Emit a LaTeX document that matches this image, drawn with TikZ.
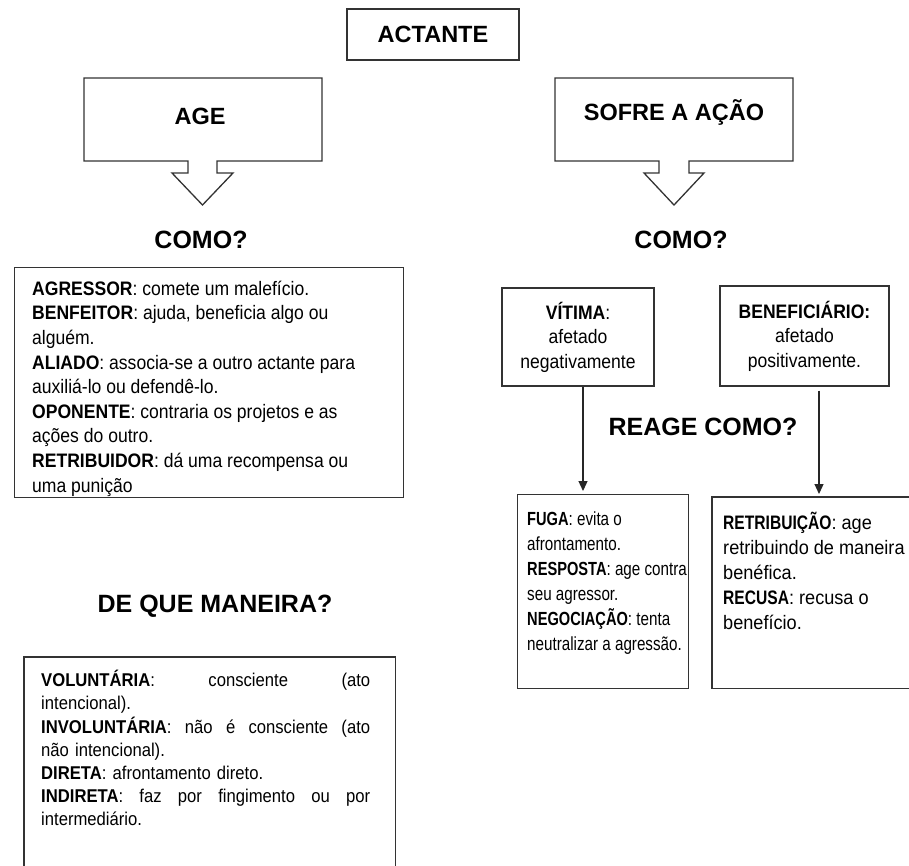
\documentclass[tikz,border=0pt]{standalone}
\usepackage{fontspec}
\setmainfont{Liberation Sans}
\newfontfamily\narrowfont[FakeStretch=0.9]{Liberation Sans}
\newfontfamily\fugafont[FakeStretch=0.8, BoldFeatures={FakeStretch=0.77}]{Liberation Sans}
\newfontfamily\retribfont[FakeStretch=0.93, BoldFeatures={FakeStretch=0.8}]{Liberation Sans}
\usetikzlibrary{arrows.meta}
\newcommand\tstrut{\rule{0pt}{15pt}}
\newcommand\jline[1]{\hbox to \linewidth{\spaceskip=.25em plus 1fil\relax #1}}
\begin{document}
\begin{tikzpicture}[x=1pt,y=-1pt,
  frame/.style={draw=black!80, line width=1.3pt, line join=miter},
  headtxt/.style={font=\fontsize{25}{30}\selectfont\bfseries, inner sep=0pt},
  calltxt/.style={font=\fontsize{23.5}{28}\selectfont\bfseries, inner sep=0pt},
  body/.style={font=\narrowfont\fontsize{19.5}{24.6}\selectfont, inner sep=0pt},
  arr/.style={-{Triangle[length=10pt,width=9pt]}, line width=1.2pt, draw=black!85}]
\useasboundingbox (0,0) rectangle (909,865);
\fill[white] (0,0) rectangle (909,865);

% ACTANTE
\node[frame, minimum width=172pt, minimum height=51pt, inner sep=0pt] (actante) at (433,34.5) {};
\node[calltxt, anchor=base] (actantetxt) at (433,42) {ACTANTE};

% callouts
\draw[frame] (84,78) -- (322,78) -- (322,161) -- (217,161) -- (217,173) -- (233,173)
  -- (202.5,205) -- (172,173) -- (188,173) -- (188,161) -- (84,161) -- cycle;
\node[calltxt, anchor=base] (age) at (200,124) {AGE};
\draw[frame] (555,78) -- (793,78) -- (793,161) -- (689,161) -- (689,173) -- (704,173)
  -- (674,205) -- (644,173) -- (659,173) -- (659,161) -- (555,161) -- cycle;
\node[calltxt, anchor=base] (sofre) at (674,120) {SOFRE A AÇÃO};

% headings
\node[headtxt, anchor=base] (como1) at (201,248) {COMO?};
\node[headtxt, anchor=base] (como2) at (681,248) {COMO?};
\node[headtxt, anchor=base] (reage) at (703,435) {REAGE COMO?};
\node[headtxt, anchor=base] (dqm) at (215,612) {DE QUE MANEIRA?};

% left box
\node[frame, minimum width=389pt, minimum height=230pt, anchor=north west, inner sep=0pt] (lbox) at (14,267) {};
\node[body, align=left, anchor=north west] (ltext) at (32,280) {\tstrut\textbf{AGRESSOR}: comete um malefício.\\
\textbf{BENFEITOR}: ajuda, beneficia algo ou\\
alguém.\\
\textbf{ALIADO}: associa-se a outro actante para\\
auxiliá-lo ou defendê-lo.\\
\textbf{OPONENTE}: contraria os projetos e as\\
ações do outro.\\
\textbf{RETRIBUIDOR}: dá uma recompensa ou\\
uma punição};

% victim / beneficiary
\node[frame, body, align=center, minimum width=152pt, minimum height=98pt] (vitima) at (578,337)
  {\textbf{VÍTIMA}:\\afetado\\negativamente};
\node[frame, body, align=center, minimum width=169pt, minimum height=100pt] (benef) at (804.5,336)
  {\textbf{BENEFICIÁRIO:}\\afetado\\positivamente.};

% reaction boxes
\node[frame, minimum width=171pt, minimum height=194pt, anchor=north west, inner sep=0pt] (fuga) at (517,494) {};
\node[body, align=left, anchor=north west, font=\fugafont\fontsize{19}{25}\selectfont] (fugatxt) at (527,510) {\tstrut\textbf{FUGA}: evita o\\
afrontamento.\\
\textbf{RESPOSTA}: age contra\\
seu agressor.\\
\textbf{NEGOCIAÇÃO}: tenta\\
neutralizar a agressão.};

\node[minimum width=205pt, minimum height=191pt, anchor=north west, inner sep=0pt] (retrib) at (712,497) {};
\draw[frame] (retrib.north east) -- (retrib.north west) -- (retrib.south west) -- (retrib.south east);
\node[body, align=left, anchor=north west, font=\retribfont\fontsize{19.5}{25}\selectfont] (retribtxt) at (723,512) {\tstrut\textbf{RETRIBUIÇÃO}: age\\
retribuindo de maneira\\
benéfica.\\
\textbf{RECUSA}: recusa o\\
benefício.};

% connectors
\coordinate (c1) at (583,0);
\coordinate (c2) at (819,0);
\draw[arr, shorten >=3pt] (vitima.south -| c1) -- (fuga.north -| c1);
\draw[arr, shorten >=3pt] ([yshift=-4pt]benef.south -| c2) -- (retrib.north -| c2);

% bottom box
\node[minimum width=371pt, minimum height=220pt, anchor=north west, inner sep=0pt] (bbox) at (24,657) {};
\draw[frame] (bbox.south west) -- (bbox.north west) -- (bbox.north east) -- (bbox.south east);
\node[body, text width=329pt, align=left, anchor=north west, font=\narrowfont\fontsize{18.5}{23.2}\selectfont] (btext) at (41,670) {\tstrut\jline{\textbf{VOLUNTÁRIA}: consciente (ato}
intencional).\\
\jline{\textbf{INVOLUNTÁRIA}: não é consciente (ato}
não intencional).\\
\textbf{DIRETA}: afrontamento direto.\\
\jline{\textbf{INDIRETA}: faz por fingimento ou por}
intermediário.};
\end{tikzpicture}
\end{document}
